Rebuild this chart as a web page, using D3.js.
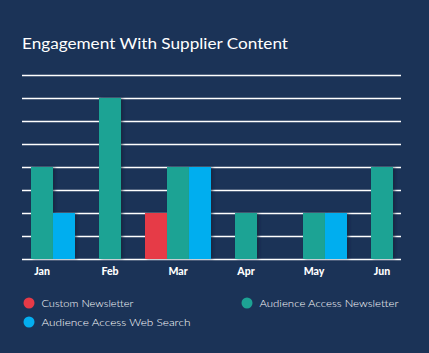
<!DOCTYPE html>
<html><head><meta charset="utf-8">
<script src="https://cdn.jsdelivr.net/npm/d3@7"></script>
<style>html,body{margin:0;padding:0;background:#1b3357;}svg{display:block;}</style>
</head><body>
<script>
const months = ["Jan","Feb","Mar","Apr","May","Jun"];
const seriesNames = ["Custom Newsletter","Audience Access Newsletter","Audience Access Web Search"];
const customNewsletter = [0,0,2,0,0,0];
const audienceNewsletter = [4,7,4,2,2,4];
const audienceWebSearch = [2,0,4,0,2,0];
const yTicks = [0,1,2,3,4,5,6,7,8];
const colors = ["#e63a47","#1da394","#04aeef"];

const W=429,H=353;
const svg=d3.select("body").append("svg").attr("width",W).attr("height",H);
svg.append("rect").attr("width",W).attr("height",H).attr("fill","#1b3357");

const defs=svg.append("defs");
const f=defs.append("filter").attr("id","sh").attr("x","-20%").attr("y","-20%").attr("width","160%").attr("height","140%");
f.append("feDropShadow").attr("dx",2).attr("dy",0).attr("stdDeviation",1.5).attr("flood-color","#0b1a30").attr("flood-opacity",0.6);

// fit text to a target width
function fit(sel,w){ sel.each(function(){ const n=this; const l=n.getComputedTextLength(); const fs=parseFloat(n.getAttribute("font-size")); n.setAttribute("font-size",(fs*w/l).toFixed(2)); }); }

const title=svg.append("text").attr("x",22).attr("y",49).attr("fill","#ffffff")
 .attr("font-family","Lato, 'Open Sans', sans-serif").attr("font-size",15.5)
 .text("Engagement With Supplier Content");
title.attr("textLength",266).attr("lengthAdjust","spacingAndGlyphs");

const y=d3.scaleLinear().domain([0,8]).range([259,75]);
const x=d3.scaleBand().domain(months).range([8,416]);
const inner=d3.scaleBand().domain([0,1,2]).range([-33,33]);

svg.append("g").selectAll("line").data(yTicks).join("line")
 .attr("x1",22).attr("x2",401).attr("y1",d=>Math.round(y(d))+0.5).attr("y2",d=>Math.round(y(d))+0.5)
 .attr("stroke","#ffffff").attr("stroke-width",1.3);

const series=[customNewsletter,audienceNewsletter,audienceWebSearch];
const bars=[];
series.forEach((s,si)=>s.forEach((v,mi)=>{ if(v>0) bars.push({si,mi,v}); }));
svg.append("g").selectAll("rect").data(bars).join("rect")
 .attr("x",d=>x(months[d.mi])+x.bandwidth()/2+inner(d.si))
 .attr("width",inner.bandwidth())
 .attr("y",d=>y(d.v)).attr("height",d=>y(0)-y(d.v))
 .attr("fill",d=>colors[d.si]).attr("filter","url(#sh)");

svg.append("g").selectAll("text").data(months).join("text")
 .attr("x",d=>x(d)+x.bandwidth()/2).attr("y",274.5).attr("text-anchor","middle")
 .attr("fill","#ffffff").attr("font-family","Lato, sans-serif").attr("font-weight",900).attr("font-size",10.5)
 .text(d=>d);

const legendPos=[[29,303],[247,303],[29,322]];
const legendW=[92,139,149];
const lg=svg.append("g").selectAll("g").data(seriesNames).join("g")
 .attr("transform",(d,i)=>`translate(${legendPos[i][0]},${legendPos[i][1]})`);
lg.append("circle").attr("r",5.5).attr("fill",(d,i)=>colors[i]);
lg.append("text").attr("x",12.5).attr("y",4).attr("fill","#ffffff")
 .attr("font-family","Lato, sans-serif").attr("font-weight",300).attr("font-size",10.5)
 .text(d=>d)
 .attr("textLength",(d,i)=>legendW[i]).attr("lengthAdjust","spacingAndGlyphs");
</script>
</body></html>
